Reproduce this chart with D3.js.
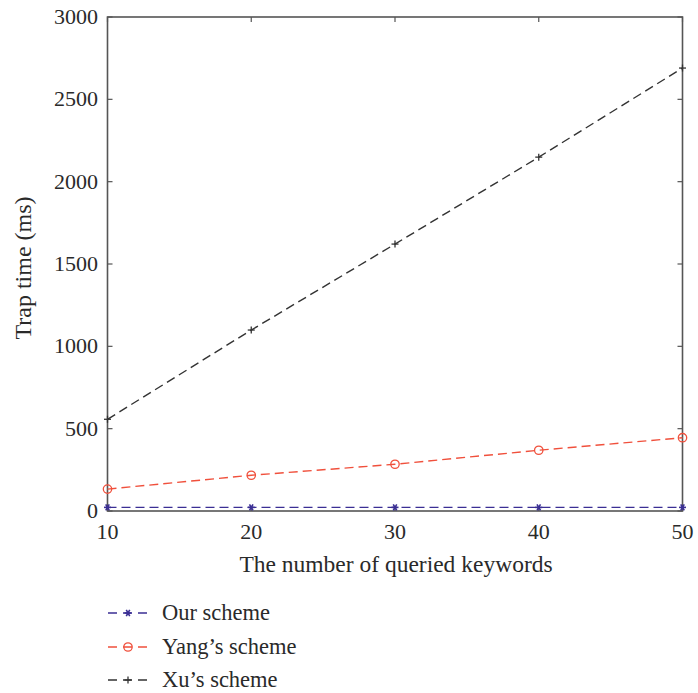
<!DOCTYPE html>
<html><head><meta charset="utf-8">
<script src="https://cdn.jsdelivr.net/npm/d3@7"></script>
<style>body{margin:0;background:#fff}svg{display:block}</style>
</head><body>
<svg id="c" width="698" height="693"></svg>
<script>
const keywords = [10, 20, 30, 40, 50];
const ourScheme = [22, 22, 22, 22, 22];
const yangScheme = [133, 217, 284, 369, 445];
const xuScheme = [557, 1099, 1621, 2149, 2690];
const xTicks = [10, 20, 30, 40, 50];
const yTicks = [0, 500, 1000, 1500, 2000, 2500, 3000];
const seriesNames = ["Our scheme", "Yang\u2019s scheme", "Xu\u2019s scheme"];

const svg = d3.select("#c");
const m = {l: 107.5, r: 682.5, t: 17, b: 511};
const x = d3.scaleLinear().domain([10, 50]).range([m.l, m.r]);
const y = d3.scaleLinear().domain([0, 3000]).range([m.b, m.t]);
const font = "'Liberation Serif', 'DejaVu Serif', serif";
const axisCol = "#555";
const txtCol = "#2a2a2a";

// frame
svg.append("rect").attr("x", m.l).attr("y", m.t).attr("width", m.r - m.l).attr("height", m.b - m.t)
  .attr("fill", "none").attr("stroke", axisCol).attr("stroke-width", 1.6);

// ticks (inward, mirrored)
const tl = 5;
const g = svg.append("g").attr("stroke", axisCol).attr("stroke-width", 1.2);
xTicks.forEach(t => {
  g.append("line").attr("x1", x(t)).attr("x2", x(t)).attr("y1", m.b).attr("y2", m.b - tl);
  g.append("line").attr("x1", x(t)).attr("x2", x(t)).attr("y1", m.t).attr("y2", m.t + tl);
});
yTicks.forEach(t => {
  g.append("line").attr("y1", y(t)).attr("y2", y(t)).attr("x1", m.l).attr("x2", m.l + tl);
  g.append("line").attr("y1", y(t)).attr("y2", y(t)).attr("x1", m.r).attr("x2", m.r - tl);
});

// tick labels
svg.selectAll(".xt").data(xTicks).enter().append("text")
  .attr("x", d => x(d)).attr("y", 539).attr("text-anchor", "middle")
  .attr("font-family", font).attr("font-size", 22).attr("fill", txtCol).text(d => d);
svg.selectAll(".yt").data(yTicks).enter().append("text")
  .attr("x", 98).attr("y", d => y(d) + 7).attr("text-anchor", "end")
  .attr("font-family", font).attr("font-size", 22).attr("fill", txtCol).text(d => d);

// axis titles
svg.append("text").attr("x", 396).attr("y", 572).attr("text-anchor", "middle")
  .attr("font-family", font).attr("font-size", 23.5).attr("fill", txtCol).text("The number of queried keywords");
svg.append("text").attr("transform", `translate(31,268) rotate(-90)`).attr("text-anchor", "middle")
  .attr("font-family", font).attr("font-size", 24).attr("fill", txtCol).text("Trap time (ms)");

const colors = ["#3b2f94", "#f0503c", "#333333"];
const data = [ourScheme, yangScheme, xuScheme];
const line = d3.line().x((d, i) => x(keywords[i])).y(d => y(d));

function marker(sel, type, cx, cy, col) {
  if (type === 0) {
    const r = 3.5;
    [0, 60, 120].forEach(a => {
      const rad = a * Math.PI / 180;
      sel.append("line").attr("x1", cx - r * Math.cos(rad)).attr("y1", cy - r * Math.sin(rad))
        .attr("x2", cx + r * Math.cos(rad)).attr("y2", cy + r * Math.sin(rad))
        .attr("stroke", col).attr("stroke-width", 1.6);
    });
    sel.append("circle").attr("cx", cx).attr("cy", cy).attr("r", 1.6).attr("fill", col);
  } else if (type === 1) {
    sel.append("circle").attr("cx", cx).attr("cy", cy).attr("r", 4.2).attr("fill", "none")
      .attr("stroke", col).attr("stroke-width", 1.3);
  } else {
    const r = 3.5;
    sel.append("line").attr("x1", cx - r).attr("x2", cx + r).attr("y1", cy).attr("y2", cy).attr("stroke", col).attr("stroke-width", 1.3);
    sel.append("line").attr("x1", cx).attr("x2", cx).attr("y1", cy - r).attr("y2", cy + r).attr("stroke", col).attr("stroke-width", 1.3);
  }
}

[2, 1, 0].forEach(k => {
  svg.append("path").attr("d", line(data[k])).attr("fill", "none").attr("stroke", colors[k])
    .attr("stroke-width", 1.4).attr("stroke-dasharray", "9,5");
  const mg = svg.append("g");
  data[k].forEach((v, i) => marker(mg, k, x(keywords[i]), y(v), colors[k]));
});

// legend
const ly = [613, 647, 680];
seriesNames.forEach((n, k) => {
  svg.append("line").attr("x1", 108).attr("x2", 148).attr("y1", ly[k]).attr("y2", ly[k])
    .attr("stroke", colors[k]).attr("stroke-width", 1.4).attr("stroke-dasharray", "9,6");
  marker(svg.append("g"), k, 128, ly[k], colors[k]);
  svg.append("text").attr("x", 162).attr("y", ly[k] + 7).attr("font-family", font).attr("font-size", 22.5)
    .attr("fill", txtCol).text(n);
});
</script>
</body></html>
